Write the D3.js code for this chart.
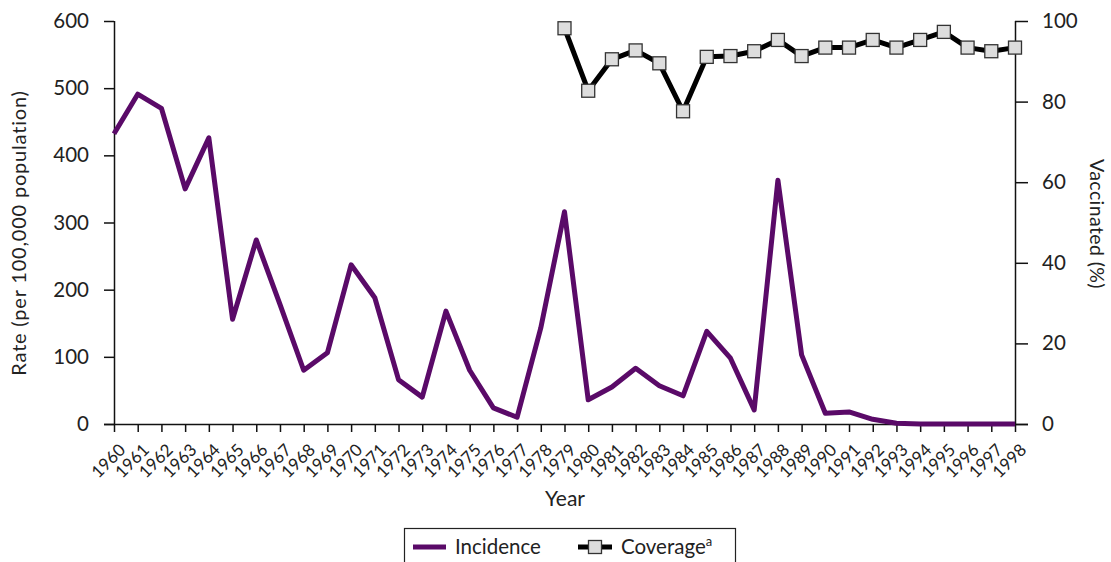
<!DOCTYPE html>
<html><head><meta charset="utf-8">
<script src="https://cdn.jsdelivr.net/npm/d3@7"></script>
<style>body{margin:0;background:#fff}svg{display:block}text{font-family:Lato,"Open Sans",sans-serif;fill:#222}</style>
</head><body><svg id="c" width="1111" height="562"></svg>
<script>
const years = d3.range(1960, 1999);
const incidence = [432,491,470,350,426,156,274,178,80,106,237,188,66,40,168,80,24,10,143,316,36,55,83,57,42,138,98,21,363,103,16,18,7,1,0,0,0,0,0];
const coverageYears = d3.range(1979, 1999);
const coverage = [98.2,82.7,90.5,92.7,89.5,77.6,91.1,91.3,92.5,95.3,91.3,93.4,93.4,95.3,93.4,95.3,97.3,93.4,92.5,93.4];
const leftTicks = [0,100,200,300,400,500,600];
const rightTicks = [0,20,40,60,80,100];

const svg = d3.select("#c");
const x = d3.scaleLinear().domain([1960,1998]).range([114,1015]);
const yL = d3.scaleLinear().domain([0,600]).range([424,21]);
const yR = d3.scaleLinear().domain([0,100]).range([424,21]);

// axes
const axL = svg.append("g").attr("transform","translate(114,0)")
  .call(d3.axisLeft(yL).tickValues(leftTicks).tickSize(10).tickPadding(15));
const axR = svg.append("g").attr("transform","translate(1015,0)")
  .call(d3.axisRight(yR).tickValues(rightTicks).tickSize(13).tickPadding(14));
const axB = svg.append("g").attr("transform","translate(0,424)")
  .call(d3.axisBottom(x).tickValues(years).tickFormat(d3.format("d")).tickSize(8));
[axL,axR,axB].forEach(a=>{a.selectAll("path.domain").attr("stroke","#111").attr("stroke-width",1.5);
  a.selectAll(".tick line").attr("stroke","#111").attr("stroke-width",1.5);});
axL.selectAll("text").style("font-size","20.5px").attr("fill","#222");
axR.selectAll("text").style("font-size","20.5px").attr("fill","#222");
axB.select("path.domain").attr("d","M104,0.5H1028");
axL.select("path.domain").attr("d","M0.5,21V424");
axR.select("path.domain").attr("d","M0.5,21V424");
axB.selectAll(".tick text").style("font-size","17px").attr("fill","#222")
  .attr("text-anchor","end").attr("y",0).attr("dy",0)
  .attr("transform","translate(12,27) rotate(-45)");

// titles
svg.append("text").attr("transform","translate(26,233) rotate(-90)").attr("text-anchor","middle")
  .style("font-size","20px").style("letter-spacing","0.8px").text("Rate (per 100,000 population)");
svg.append("text").attr("transform","translate(1090,224) rotate(90)").attr("text-anchor","middle")
  .style("font-size","19.5px").style("letter-spacing","0.4px").text("Vaccinated (%)");
svg.append("text").attr("x",565).attr("y",506).attr("text-anchor","middle")
  .style("font-size","21px").text("Year");

// incidence line
const purple = "#5a0a68";
svg.append("path").datum(years.map((yr,i)=>[yr,incidence[i]]))
  .attr("fill","none").attr("stroke",purple).attr("stroke-width",5).attr("stroke-linejoin","round")
  .attr("d",d3.line().x(d=>x(d[0])).y(d=>yL(d[1])));

// coverage line
const cov = coverageYears.map((yr,i)=>[yr,coverage[i]]);
svg.append("path").datum(cov).attr("fill","none").attr("stroke","#000").attr("stroke-width",5)
  .attr("stroke-linejoin","round").attr("d",d3.line().x(d=>x(d[0])).y(d=>yR(d[1])));
svg.selectAll("rect.m").data(cov).enter().append("rect").attr("class","m")
  .attr("x",d=>x(d[0])-6.5).attr("y",d=>yR(d[1])-6.5).attr("width",13).attr("height",13)
  .attr("fill","#ddd").attr("stroke","#333").attr("stroke-width",1.3);

// legend
const lg = svg.append("g");
lg.append("rect").attr("x",404.5).attr("y",528.5).attr("width",331).attr("height",45)
  .attr("fill","#fff").attr("stroke","#222").attr("stroke-width",1.2);
lg.append("line").attr("x1",413).attr("x2",446).attr("y1",547).attr("y2",547).attr("stroke",purple).attr("stroke-width",5);
lg.append("text").attr("x",455).attr("y",554).style("font-size","20.5px").text("Incidence");
lg.append("line").attr("x1",578).attr("x2",612).attr("y1",547).attr("y2",547).attr("stroke","#000").attr("stroke-width",5);
lg.append("rect").attr("x",588.5).attr("y",540.5).attr("width",13).attr("height",13).attr("fill","#ddd").attr("stroke","#333").attr("stroke-width",1.3);
const ct = lg.append("text").attr("x",621).attr("y",554).style("font-size","20.5px");
ct.append("tspan").text("Coverage");
ct.append("tspan").attr("dy",-8).style("font-size","13px").text("a");
</script></body></html>
